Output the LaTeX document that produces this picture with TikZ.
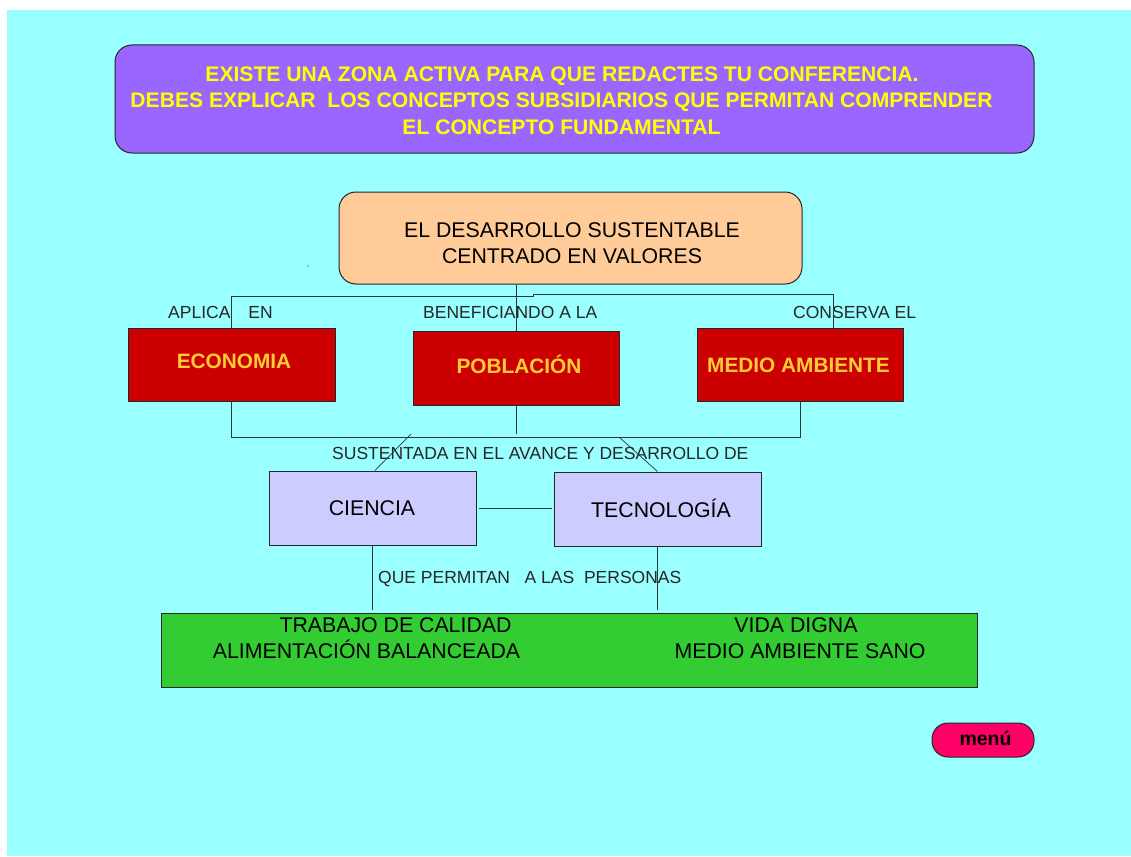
\documentclass[tikz,border=0pt]{standalone}
\usepackage{fontspec}
\setmainfont{Liberation Sans}
\usetikzlibrary{calc}
\definecolor{bgcyan}{HTML}{99FFFF}
\definecolor{purplebox}{HTML}{9966FF}
\definecolor{orangebox}{HTML}{FFCC99}
\definecolor{redbox}{HTML}{CC0000}
\definecolor{lavbox}{HTML}{CCCCFF}
\definecolor{greenbox}{HTML}{33CC33}
\definecolor{menubox}{HTML}{FF0066}
\definecolor{titletext}{HTML}{FFFF00}
\definecolor{goldtext}{HTML}{FFCC33}
\definecolor{linecol}{HTML}{263838}
\begin{document}
\begin{tikzpicture}[x=1pt,y=-1pt,
  boxshape/.style={draw=black!85, line width=1pt, inner sep=0pt},
  conn/.style={draw=linecol, line width=1pt},
  bigtext/.style={font=\fontsize{21.3}{26}\selectfont, anchor=base, inner sep=0pt},
  titletxt/.style={font=\fontsize{21.1}{26}\selectfont\bfseries, text=titletext, anchor=base, inner sep=0pt},
  redtxt/.style={font=\fontsize{20.8}{26}\selectfont\bfseries, text=goldtext, anchor=base, inner sep=0pt},
  lbl/.style={font=\fontsize{17.5}{20}\selectfont, text=black!85, anchor=base west, inner sep=0pt}
]
\useasboundingbox (0,0) rectangle (1131,856);
\fill[white] (0,0) rectangle (1131,856);
\fill[bgcyan] (7,10) rectangle (1131,856);

% title box
\node[boxshape, fill=purplebox, rounded corners=17pt, minimum width=919pt, minimum height=108pt] (title) at (574.5,99) {};
\node[titletxt] (t1) at (562,82) {EXISTE UNA ZONA ACTIVA PARA QUE REDACTES TU CONFERENCIA.};
\node[titletxt] (t2) at (561.5,108) {DEBES EXPLICAR~~LOS CONCEPTOS SUBSIDIARIOS QUE PERMITAN COMPRENDER};
\node[titletxt] (t3) at (561.5,134) {EL CONCEPTO FUNDAMENTAL};

% core box
\node[boxshape, fill=orangebox, rounded corners=17pt, minimum width=463pt, minimum height=92pt] (core) at (570.5,238) {};
\node[bigtext] (c1) at (572,237) {EL DESARROLLO SUSTENTABLE};
\node[bigtext] (c2) at (572,263) {CENTRADO EN VALORES};

% red boxes
\node[boxshape, fill=redbox, minimum width=207pt, minimum height=73pt] (econ) at (231.5,364.5) {};
\node[redtxt] (econt) at (234,368) {ECONOMIA};
\node[boxshape, fill=redbox, minimum width=206pt, minimum height=74pt] (pob) at (516,368) {};
\node[redtxt] (pobt) at (519,373) {POBLACIÓN};
\node[boxshape, fill=redbox, minimum width=206pt, minimum height=73pt] (med) at (800,364.5) {};
\node[redtxt] (medt) at (798.5,372) {MEDIO AMBIENTE};

% labels
\node[lbl] (l1) at (168,318) {APLICA\hspace{18pt}EN};
\node[lbl] (l2) at (423,318) {BENEFICIANDO A LA};
\node[lbl] (l3) at (793,318) {CONSERVA EL};
\node[lbl] (l4) at (332,459) {SUSTENTADA EN EL AVANCE Y DESARROLLO DE};
\node[lbl] (l5) at (378,583) {QUE PERMITAN~~~A LAS~~PERSONAS};

% lavender boxes
\node[boxshape, fill=lavbox, minimum width=207pt, minimum height=74pt] (cien) at (372.5,508) {};
\node[bigtext] (cient) at (372,515) {CIENCIA};
\node[boxshape, fill=lavbox, minimum width=207pt, minimum height=74pt] (tec) at (657.5,509) {};
\node[bigtext] (tect) at (661,517) {TECNOLOGÍA};

% green box
\node[boxshape, fill=greenbox, minimum width=816pt, minimum height=74pt] (res) at (569,650) {};
\node[bigtext] (g1) at (395.5,632) {TRABAJO DE CALIDAD};
\node[bigtext] (g2) at (366.5,658) {ALIMENTACIÓN BALANCEADA};
\node[bigtext] (g3) at (796,632) {VIDA DIGNA};
\node[bigtext] (g4) at (800,658) {MEDIO AMBIENTE SANO};

% menu button
\node[boxshape, fill=menubox, rounded corners=16pt, minimum width=102pt, minimum height=34pt] (menu) at (983,740) {};
\node[font=\fontsize{19.5}{22}\selectfont\bfseries, anchor=base, inner sep=0pt] (menut) at (985.5,745) {menú};

% stray dot
\fill[linecol] (308,266) circle (0.6pt);

% coordinates for connectors
\coordinate (busTL) at (231,296);
\coordinate (busStep) at (533,296);
\coordinate (busStep2) at (533,294);
\coordinate (busTR) at (833,294);
\coordinate (medTop) at (833,328);
\coordinate (busB) at (0,437);
\coordinate (pobEnd) at (0,434);
\coordinate (dgA) at (411,434);
\coordinate (dgB) at (619,437);
\coordinate (gtop) at (0,610);

% top connectors
\draw[conn] (pob.north) -- (pob.north |- core.south);
\draw[conn] (econ.north) -- (econ.north |- busTL) -- (busStep) -- (busStep2) -- (busTR) -- (medTop);

% bottom bus
\draw[conn] (econ.south) -- (econ.south |- busB) -- (med.south |- busB) -- (med.south);
\draw[conn] (pob.south) -- (pob.south |- pobEnd);
\draw[conn, line width=0.7pt] (dgA) -- ($(cien.north)+(2.5,0)$);
\draw[conn, line width=0.7pt] (dgB) -- (tec.north);

% ciencia - tecnologia
\draw[conn] ($(cien.east)+(2,0)$) -- ($(cien.east -| tec.west)+(-2,0)$);

% to green
\draw[conn] (cien.south) -- (cien.south |- gtop);
\draw[conn] (tec.south) -- (tec.south |- gtop);
\end{tikzpicture}
\end{document}
